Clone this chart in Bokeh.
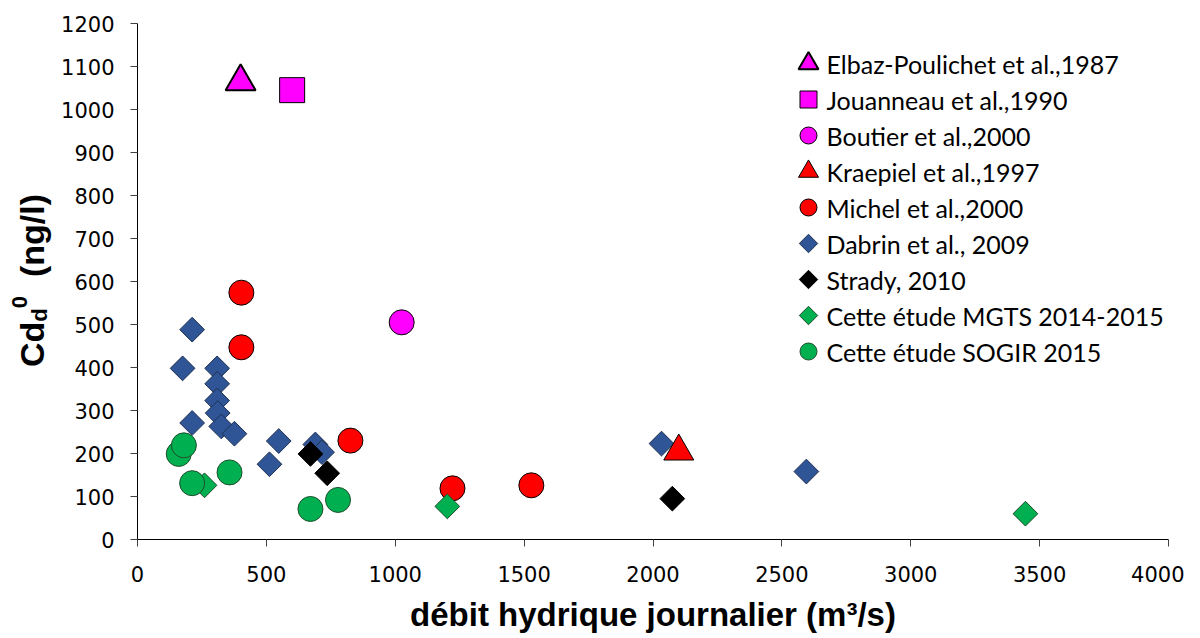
import math
from bokeh.plotting import figure
from bokeh.models import Range1d, Div
from bokeh.layouts import row
from bokeh.core.properties import value
from bokeh.embed import file_html
from bokeh.resources import INLINE

# ---- data ----
elbaz_x = [400]
elbaz_y = [1065]
jouanneau_x = [600]
jouanneau_y = [1045]
boutier_x = [1025]
boutier_y = [505]
kraepiel_x = [2100]
kraepiel_y = [205]
michel_x = [403, 403, 826, 1222, 1528]
michel_y = [574, 447, 230, 119, 126]
dabrin_x = [212, 175, 309, 309, 309, 311, 212, 325, 376, 548, 512, 690, 716, 2033, 2595]
dabrin_y = [488, 398, 398, 362, 323, 294, 271, 263, 246, 229, 175, 221, 203, 223, 158]
strady_x = [671, 736, 2075]
strady_y = [199, 154, 95]
mgts_x = [260, 1202, 3445]
mgts_y = [126, 77, 60]
sogir_x = [160, 180, 212, 357, 671, 778]
sogir_y = [199, 219, 131, 156, 71, 92]

labels = ["Elbaz-Poulichet et al.,1987", "Jouanneau et al.,1990", "Boutier et al.,2000",
          "Kraepiel et al.,1997", "Michel et al.,2000", "Dabrin et al., 2009",
          "Strady, 2010", "Cette étude MGTS 2014-2015", "Cette étude SOGIR 2015"]
x_ticks = [0, 500, 1000, 1500, 2000, 2500, 3000, 3500, 4000]
y_ticks = list(range(0, 1300, 100))

DIV_W = 56
H = 638
FRAME_W, FRAME_H = 1031, 516
p = figure(width=1184 - DIV_W, height=H, output_backend="svg", toolbar_location=None,
           x_range=Range1d(0, 4000), y_range=Range1d(0, 1200),
           min_border_left=137 - DIV_W, min_border_right=16, min_border_top=23,
           min_border_bottom=H - 539, margin=0)
p.outline_line_color = None
p.xgrid.visible = False
p.ygrid.visible = False
# pixel ranges for the legend layout (frame pixels, y downward)
p.extra_x_ranges = {"px": Range1d(0, FRAME_W)}
p.extra_y_ranges = {"px": Range1d(FRAME_H, 0)}

for ax, tk in ((p.xaxis[0], x_ticks), (p.yaxis[0], y_ticks)):
    ax.ticker = tk
    ax.axis_line_color = "#000000"
    ax.major_tick_line_color = "#404040"
    ax.major_tick_out = 7
    ax.major_tick_in = 0
    ax.minor_tick_line_color = None
    ax.major_label_text_font = "DejaVu Sans"
    ax.major_label_text_font_size = "21px"
    ax.major_label_text_color = "#000000"
    ax.major_label_standoff = 16
p.xaxis[0].major_label_standoff = 19

p.xaxis[0].axis_label = "débit hydrique journalier (m³/s)"
p.xaxis[0].axis_label_text_font = "Liberation Sans"
p.xaxis[0].axis_label_text_font_style = "bold"
p.xaxis[0].axis_label_text_font_size = "33px"
p.xaxis[0].axis_label_text_color = "#000000"
p.xaxis[0].axis_label_standoff = 11

DIAG = math.pi / 4
blue = "#2F5597"
green = "#00B050"

styles = [
    dict(marker="triangle", angle=0, fill_color="#FF00FF", line_color="#000000", line_width=2),
    dict(marker="square", angle=0, fill_color="#FF00FF", line_color="#000000", line_width=1),
    dict(marker="circle", angle=0, fill_color="#FF00FF", line_color="#000000", line_width=1),
    dict(marker="triangle", angle=0, fill_color="#FF0000", line_color="#000000", line_width=1),
    dict(marker="circle", angle=0, fill_color="#FF0000", line_color="#000000", line_width=1),
    dict(marker="square", angle=DIAG, fill_color=blue, line_color="#1F3050", line_width=1),
    dict(marker="square", angle=DIAG, fill_color="#000000", line_color="#000000", line_width=1),
    dict(marker="square", angle=DIAG, fill_color=green, line_color="#1E4D2B", line_width=1),
    dict(marker="circle", angle=0, fill_color=green, line_color="#1E4D2B", line_width=1),
]
sizes = [30, 25, 25, 30, 25, 17.5, 17.5, 17.5, 25]
leg_sizes = [20, 17, 17, 20, 17, 13, 13, 13, 17]
series = [(elbaz_x, elbaz_y), (jouanneau_x, jouanneau_y), (boutier_x, boutier_y),
          (kraepiel_x, kraepiel_y), (michel_x, michel_y), (dabrin_x, dabrin_y),
          (strady_x, strady_y), (mgts_x, mgts_y), (sogir_x, sogir_y)]
draw_order = [5, 0, 1, 2, 4, 3, 6, 7, 8]
for i in draw_order:
    xs, ys = series[i]
    p.scatter(xs, ys, size=sizes[i], **styles[i])

# legend (drawn in frame pixel space)
LEG_X, LEG_TX, LEG_Y0, LEG_DY = 671, 689, 40, 36
for i, lab in enumerate(labels):
    yy = LEG_Y0 + LEG_DY * i
    p.scatter([LEG_X], [yy], size=leg_sizes[i], x_range_name="px", y_range_name="px", **styles[i])
p.text(x=[LEG_TX] * len(labels), y=[LEG_Y0 + LEG_DY * i for i in range(len(labels))], text=labels,
       x_range_name="px", y_range_name="px", text_font=value("Lato"), text_font_size="25px",
       text_baseline="middle", text_align="left", text_color="#000000")

# y axis title with subscript / superscript, as rotated HTML text
ytitle = (
    '<div style="position:relative;width:%dpx;height:%dpx;">'
    '<div style="position:absolute;left:15px;top:367px;transform:rotate(-90deg);'
    'transform-origin:0 0;white-space:nowrap;font-family:\'Liberation Sans\';'
    'font-weight:bold;font-size:34px;line-height:34px;color:#000;">'
    'Cd<span style="font-size:22px;position:relative;top:3px;">d</span>'
    '<span style="font-size:22px;position:relative;top:-17px;">0</span>'
    '&nbsp;&nbsp;(ng/l)</div></div>' % (DIV_W, H)
)
div = Div(text=ytitle, width=DIV_W, height=H, margin=0)

open("out.html", "w").write(file_html(row(div, p), INLINE))
